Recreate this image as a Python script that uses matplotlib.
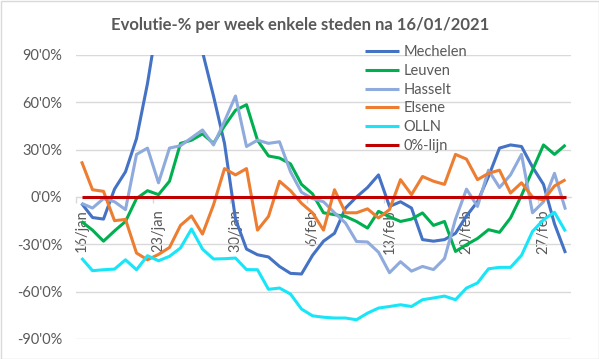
import matplotlib
matplotlib.use('Agg')
import matplotlib.pyplot as plt
from matplotlib.ticker import FixedLocator, FuncFormatter
from matplotlib.patches import Rectangle
import numpy as np
import pandas as pd

# ---------------- data ----------------
dates = pd.date_range('2021-01-16', '2021-03-01', freq='D')
month_names = {1: 'jan', 2: 'feb', 3: 'mrt'}
categories = [f"{d.day}/{month_names[d.month]}" for d in dates]

tick_labels = ['16/jan', '23/jan', '30/jan', '6/feb', '13/feb', '20/feb', '27/feb']

mechelen = [-4, -13, -14, 5, 16, 37, 72, 115, 135, 150, 130, 92, 64, 34, -14,
            -33, -36.6, -38, -44, -48.4, -48.8, -37, -28, -23, -7, 0, 6, 14, -6,
            -3, -7, -27, -28, -27, -23, -12, -3, 13, 31, 33, 32, 19, 8, -17, -35.5]
leuven = [-15.5, -21, -28, -21.5, -15.5, -1, 4, 1.5, 10, 34, 36, 40, 34, 45, 55,
          58.5, 36, 26, 24.7, 21, 8, 2, -10, -11.2, -12.3, -15.5, -19.7, -9.1,
          -12.5, -15.5, -14, -10.1, -18, -15.5, -34.5, -30.2, -26.3, -20.7,
          -22.4, -13.3, 1, 17, 33, 27, 33]
hasselt = [-4, -7, -1, -3, -8, 27, 31, 9, 31, 32.5, 37.5, 42.5, 33, 48, 64, 32,
           36, 34, 35, 16, 3, -1, -3, -10, -16.5, -28.2, -28.5, -35, -48, -41,
           -47, -44, -46, -39, -14, 5, -6, 17, 6, 14, 27, -10, -3, 15, -8]
elsene = [22.6, 4.6, 3.6, -15, -14.2, -35.5, -39.8, -36.4, -32, -18, -12, -23.5,
          -5, 18, 14, 18, -21, -12.3, 10, 4, -4, -10, -21, 4.6, -10, -10, -7.5,
          -13.3, -8, 11, 1.5, 13, 10, 8, 27, 24, 11, 15, 17, 2.5, 9, 0, -2, 7, 11]
olln = [-38.7, -46.7, -46.1, -45.7, -39.8, -46.1, -37.2, -40.4, -37.6, -32.3,
        -20.3, -33, -39.3, -39.1, -38.7, -46, -46.1, -58.5, -57.7, -61.5, -71,
        -75.3, -76.2, -76.7, -76.7, -77.8, -73.6, -70.4, -69.4, -68.3, -69.4,
        -65.1, -64, -62.8, -65.1, -57.7, -54.5, -45.5, -44.6, -44.6, -37, -21.8,
        -14.4, -9.7, -21.8]
zero_line = [0] * 45

series_names = ['Mechelen', 'Leuven', 'Hasselt', 'Elsene', 'OLLN', '0%-lijn']
series_values = [mechelen, leuven, hasselt, elsene, olln, zero_line]
series_colors = ['#4472C4', '#00B050', '#8FAADC', '#ED7D31', '#18E6F8', '#C00000']

y_ticks = [-90, -60, -30, 0, 30, 60, 90]

# ---------------- plot ----------------
plt.rcParams['font.family'] = ['Lato', 'DejaVu Sans']
W, H = 599, 359
fig = plt.figure(figsize=(W / 100, H / 100), dpi=100)
fig.patch.set_facecolor('white')

ax = fig.add_axes([76 / W, 1 - 339 / H, (571 - 76) / W, (339 - 55) / H])
x = np.arange(len(categories))

for i, (name, vals, col) in enumerate(zip(series_names, series_values, series_colors)):
    ax.plot(x, vals, color=col, lw=2.2, label=name, zorder=3 + i * 0.1,
            solid_joinstyle='round', solid_capstyle='butt')

ax.set_xlim(-0.5, len(categories) - 0.5)
ax.set_ylim(-90, 90)

ax.yaxis.set_major_locator(FixedLocator(y_ticks))
ax.yaxis.set_major_formatter(FuncFormatter(lambda v, p: f"{int(round(v))}'0%"))
ax.grid(axis='y', color='#D9D9D9', lw=1)
ax.set_axisbelow(True)

for s in ['top', 'right', 'left']:
    ax.spines[s].set_visible(False)
ax.spines['bottom'].set_position(('data', 0))
ax.spines['bottom'].set_color('#D9D9D9')

tick_pos = [categories.index(t) for t in tick_labels]
ax.set_xticks(tick_pos)
ax.set_xticklabels(tick_labels, rotation=90)
ax.set_xticks([p - 0.5 for p in tick_pos], minor=True)
ax.tick_params(axis='x', which='major', length=0, pad=9, labelsize=10.5,
               labelcolor='#595959')
ax.tick_params(axis='x', which='minor', length=4, color='#D9D9D9', width=1)
ax.tick_params(axis='y', length=0, pad=10, labelsize=10.5, labelcolor='#595959')
for lbl in ax.get_xticklabels():
    lbl.set_zorder(1)

fig.text(300 / W, 1 - 25 / H, 'Evolutie-% per week enkele steden na 16/01/2021',
         ha='center', va='center', fontsize=12, fontweight='bold', color='#595959')

leg = ax.legend(loc='upper left', bbox_to_anchor=(365 / W, 1 - 45 / H),
                bbox_transform=fig.transFigure, frameon=False,
                handlelength=2.35, handletextpad=0.3, labelspacing=0.33,
                borderpad=0, borderaxespad=0, fontsize=10.5)
for t in leg.get_texts():
    t.set_color('#595959')

fig.patches.append(Rectangle((0.5 / W, 0.5 / H), 1 - 1 / W, 1 - 1 / H,
                             transform=fig.transFigure, fill=False,
                             edgecolor='#D9D9D9', lw=1))

fig.savefig('out.png', dpi=100, facecolor='white')
